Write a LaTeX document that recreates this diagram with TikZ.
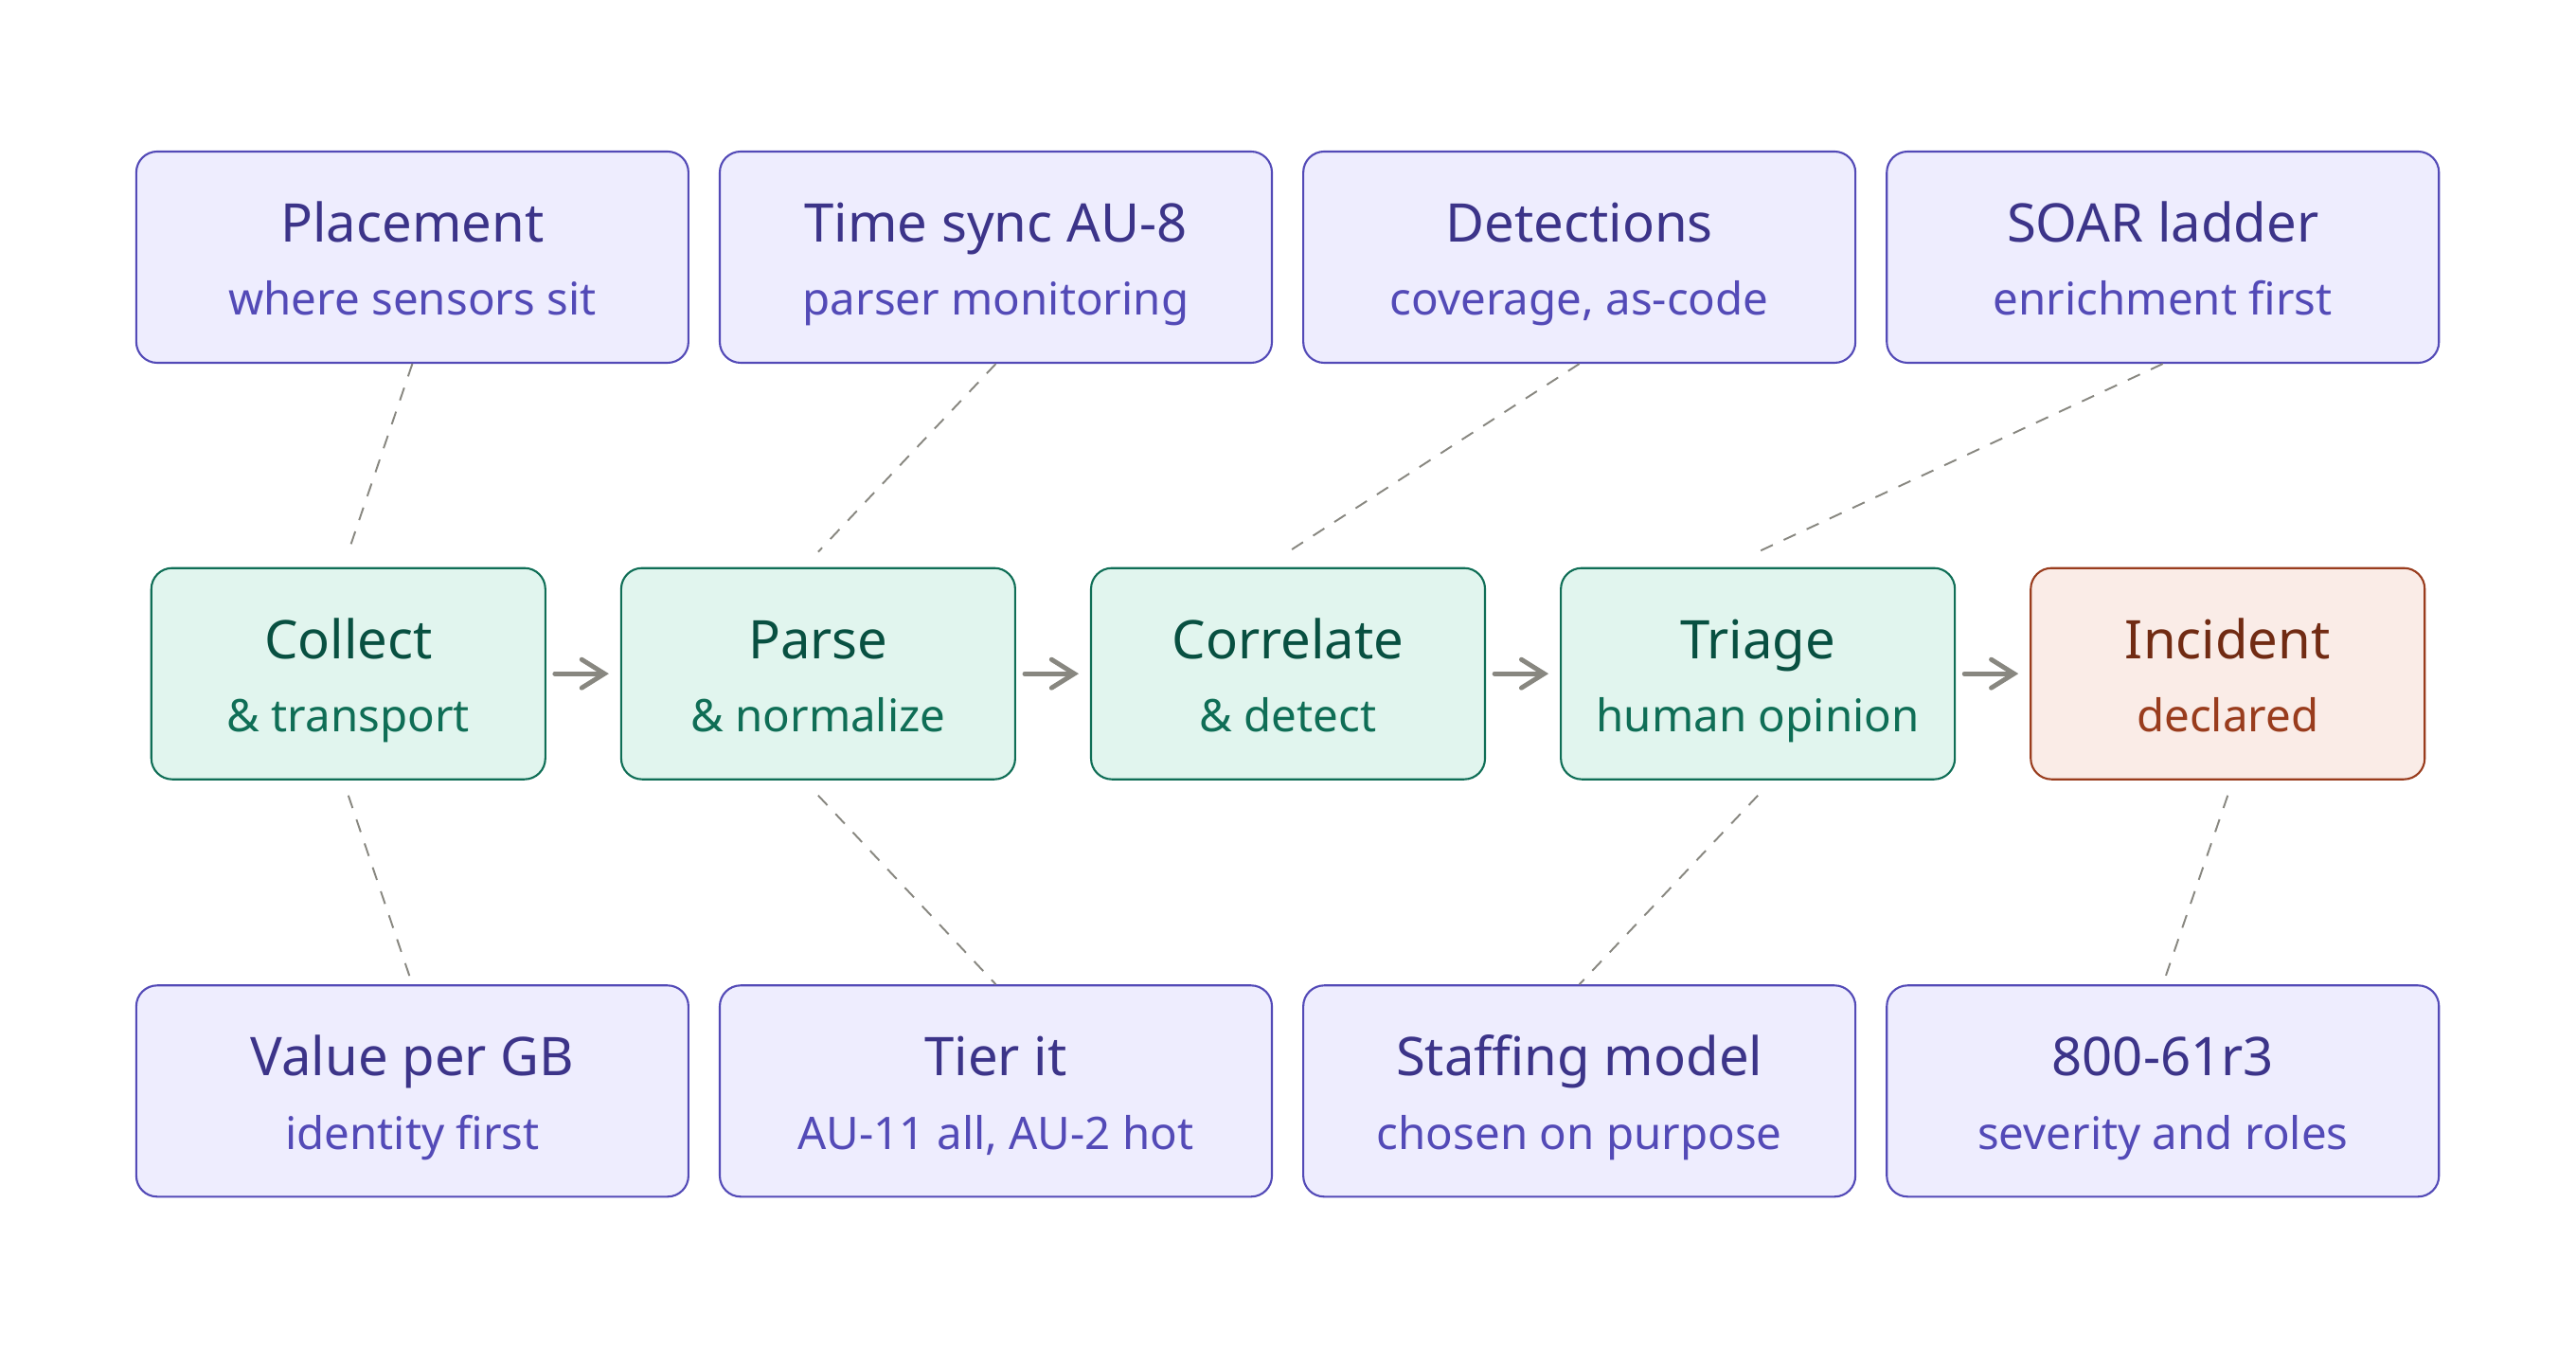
\documentclass[tikz,border=0pt]{standalone}
\usepackage{fontspec}
\setmainfont{Noto Sans}
\usepackage{xcolor}
\usepackage{tikz}
\usetikzlibrary{arrows.meta,positioning}
\definecolor{noteFill}{HTML}{EEEDFE}
\definecolor{noteLine}{HTML}{534AB7}
\definecolor{noteTitle}{HTML}{3C3489}
\definecolor{stageFill}{HTML}{E1F5EE}
\definecolor{stageLine}{HTML}{0F6E56}
\definecolor{stageTitle}{HTML}{085041}
\definecolor{alertFill}{HTML}{FAECE7}
\definecolor{alertLine}{HTML}{993C1D}
\definecolor{alertTitle}{HTML}{712B13}
\definecolor{linkGray}{HTML}{888780}
\newcommand{\twoline}[2]{#1\\{\fontsize{13.5}{22}\selectfont\color{subtxt}#2}}

\begin{document}
\begin{tikzpicture}[
  box/.style={rectangle, rounded corners=0.22cm, line width=0.6pt, minimum height=2.23cm,
    align=center, text height=1.3cm, text depth=0.07cm, font=\fontsize{16}{22}\selectfont},
  note/.style={box, draw=noteLine, fill=noteFill, text=noteTitle, minimum width=5.83cm,
    execute at begin node={\colorlet{subtxt}{noteLine}}},
  stage/.style={box, draw=stageLine, fill=stageFill, text=stageTitle, minimum width=4.16cm,
    execute at begin node={\colorlet{subtxt}{stageLine}}},
  alert/.style={box, draw=alertLine, fill=alertFill, text=alertTitle, minimum width=4.16cm,
    execute at begin node={\colorlet{subtxt}{alertLine}}},
  arrow/.style={-{Straight Barb[length=0.24cm, width=0.3cm, line cap=round]}, line width=1.4pt,
    linkGray, line cap=round, shorten <=0.09cm, shorten >=0.12cm},
  link/.style={linkGray, line width=0.55pt, dash pattern=on 4pt off 3.6pt}
]
\useasboundingbox (0,0) rectangle (27.2,14.4);

% top row
\node[note] (place) at (4.354,11.685) {\twoline{Placement}{where sensors sit}};
\node[note, right=0.31cm of place] (tsync) {\twoline{Time sync AU-8}{parser monitoring}};
\node[note, right=0.31cm of tsync] (detect) {\twoline{Detections}{coverage, as-code}};
\node[note, right=0.31cm of detect] (soar) {\twoline{SOAR ladder}{enrichment first}};

% pipeline
\node[stage] (collect) at (3.678,7.288) {\twoline{Collect}{\& transport}};
\node[stage, right=0.78cm of collect] (parse) {\twoline{Parse}{\& normalize}};
\node[stage, right=0.78cm of parse] (correl) {\twoline{Correlate}{\& detect}};
\node[stage, right=0.78cm of correl] (triage) {\twoline{Triage}{human opinion}};
\node[alert, right=0.78cm of triage] (incid) {\twoline{Incident}{declared}};

% bottom row
\node[note] (value) at (4.354,2.882) {\twoline{Value per GB}{identity first}};
\node[note, right=0.31cm of value] (tier) {\twoline{Tier it}{AU-11 all, AU-2 hot}};
\node[note, right=0.31cm of tier] (staff) {\twoline{Staffing model}{chosen on purpose}};
\node[note, right=0.31cm of staff] (nist) {\twoline{800-61r3}{severity and roles}};

\draw[arrow] (collect) -- (parse);
\draw[arrow] (parse) -- (correl);
\draw[arrow] (correl) -- (triage);
\draw[arrow] (triage) -- (incid);

\draw[link] (place.south) -- ([yshift=0.16cm]collect.north);
\draw[link] (tsync.south) -- ([yshift=0.16cm]parse.north);
\draw[link] (detect.south) -- ([yshift=0.16cm]correl.north);
\draw[link] (soar.south) -- ([yshift=0.16cm]triage.north);

\draw[link] ([yshift=-0.16cm]collect.south) -- (value.north);
\draw[link] ([yshift=-0.16cm]parse.south) -- (tier.north);
\draw[link] ([yshift=-0.16cm]triage.south) -- (staff.north);
\draw[link] ([yshift=-0.16cm]incid.south) -- (nist.north);
\end{tikzpicture}
\end{document}
